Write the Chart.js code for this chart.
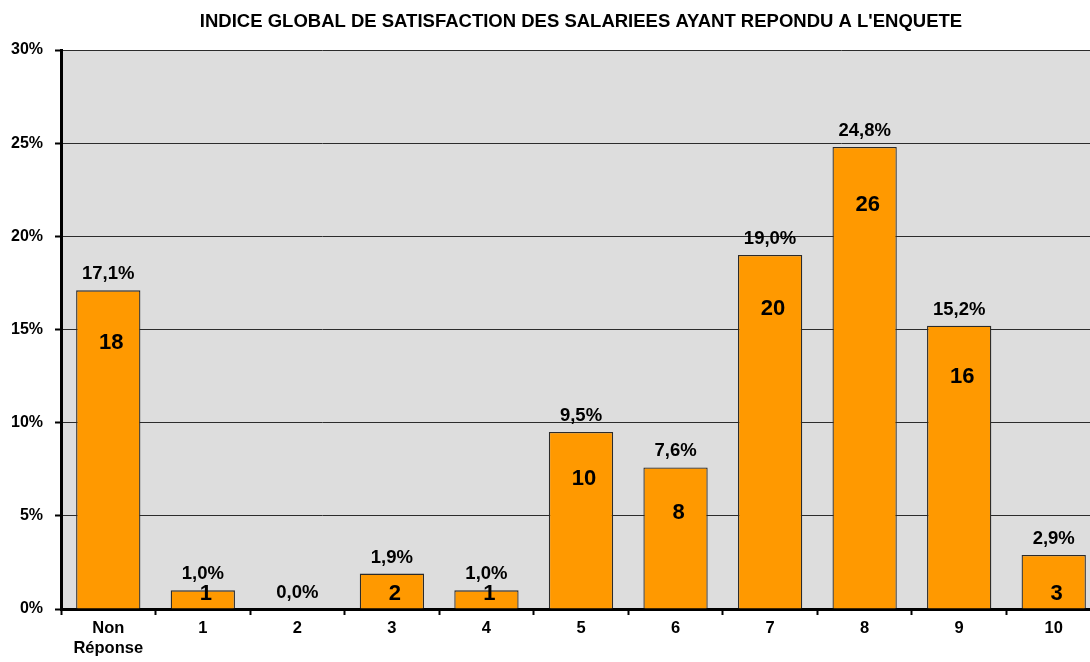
<!DOCTYPE html>
<html>
<head>
<meta charset="utf-8">
<script src="https://cdn.jsdelivr.net/npm/chart.js@4"></script>
<style>
  html, body { margin: 0; padding: 0; background: #fff; overflow: hidden; }
  #wrap { width: 1090px; height: 662px; overflow: hidden; }
</style>
</head>
<body>
<div id="wrap"><canvas id="chart" width="1101" height="662"></canvas></div>
<script>
// Data
const categories = [['Non', 'Réponse'], '1', '2', '3', '4', '5', '6', '7', '8', '9', '10'];
const percentages = [17.1, 1.0, 0.0, 1.9, 1.0, 9.5, 7.6, 19.0, 24.8, 15.2, 2.9];
const counts = [18, 1, 0, 2, 1, 10, 8, 20, 26, 16, 3];
const yTicks = [0, 5, 10, 15, 20, 25, 30];

const FONT = "Arial, 'Liberation Sans', sans-serif";

// Grey plot background
const plotBackground = {
  id: 'plotBackground',
  beforeDraw(chart) {
    const { ctx, chartArea } = chart;
    ctx.save();
    ctx.fillStyle = '#DDDDDD';
    ctx.fillRect(chartArea.left, chartArea.top, chartArea.right - chartArea.left, chartArea.bottom - chartArea.top);
    ctx.restore();
  }
};

// Percent above each bar, count inside each bar
const barLabels = {
  id: 'barLabels',
  afterDatasetsDraw(chart) {
    const { ctx, chartArea } = chart;
    const meta = chart.getDatasetMeta(0);
    ctx.save();
    ctx.fillStyle = '#000';
    ctx.textAlign = 'center';
    ctx.textBaseline = 'middle';
    meta.data.forEach((bar, i) => {
      ctx.font = 'bold 18.5px ' + FONT;
      ctx.fillText(percentages[i].toFixed(1).replace('.', ',') + '%', bar.x, bar.y - 16);
    });
    ctx.beginPath();
    ctx.rect(chartArea.left, chartArea.top, chartArea.right - chartArea.left, chartArea.bottom - chartArea.top);
    ctx.clip();
    meta.data.forEach((bar, i) => {
      if (!counts[i]) return;
      const h = bar.base - bar.y;
      const y = Math.min(bar.y + 40 + 0.04 * h, bar.base - 15);
      ctx.font = 'bold 22px ' + FONT;
      ctx.fillText(String(counts[i]), bar.x + 3, y);
    });
    ctx.restore();
  }
};

new Chart(document.getElementById('chart'), {
  type: 'bar',
  data: {
    labels: categories,
    datasets: [{
      data: percentages,
      backgroundColor: '#FF9900',
      borderColor: '#2b2b2b',
      borderWidth: (c) => (percentages[c.dataIndex] ? 1.3 : 0),
      borderSkipped: 'bottom',
      barPercentage: 0.68,
      categoryPercentage: 1
    }]
  },
  options: {
    responsive: false,
    animation: false,
    layout: { padding: { left: 0, right: 0, top: 0, bottom: 0 } },
    plugins: {
      legend: { display: false },
      tooltip: { enabled: false },
      title: {
        display: true,
        fullSize: false,
        text: "INDICE GLOBAL DE SATISFACTION DES SALARIEES AYANT REPONDU A L'ENQUETE",
        color: '#000',
        font: { family: FONT, size: 18.5, weight: 'bold' },
        padding: { top: 11, bottom: 16.8 }
      }
    },
    scales: {
      x: {
        grid: {
          display: true,
          offset: true,
          drawOnChartArea: false,
          drawTicks: true,
          tickLength: 6,
          tickWidth: 2,
          tickColor: '#000'
        },
        border: { display: true, color: '#000', width: 3 },
        ticks: {
          color: '#000',
          font: { family: FONT, size: 16.5, weight: 'bold' },
          padding: 4,
          maxRotation: 0,
          autoSkip: false
        },
        afterFit(scale) { scale.height = 53; }
      },
      y: {
        min: 0,
        max: 30,
        afterBuildTicks(scale) { scale.ticks = yTicks.map(v => ({ value: v })); },
        grid: {
          color: '#2b2b2b',
          lineWidth: 1,
          tickLength: 6,
          tickColor: '#000',
          tickWidth: 2
        },
        border: { display: true, color: '#000', width: 3 },
        ticks: {
          color: '#000',
          font: { family: FONT, size: 16, weight: 'bold' },
          padding: 12,
          callback: (v) => v + '%'
        },
        afterFit(scale) { scale.width = 61; }
      }
    }
  },
  plugins: [plotBackground, barLabels]
});
</script>
</body>
</html>
